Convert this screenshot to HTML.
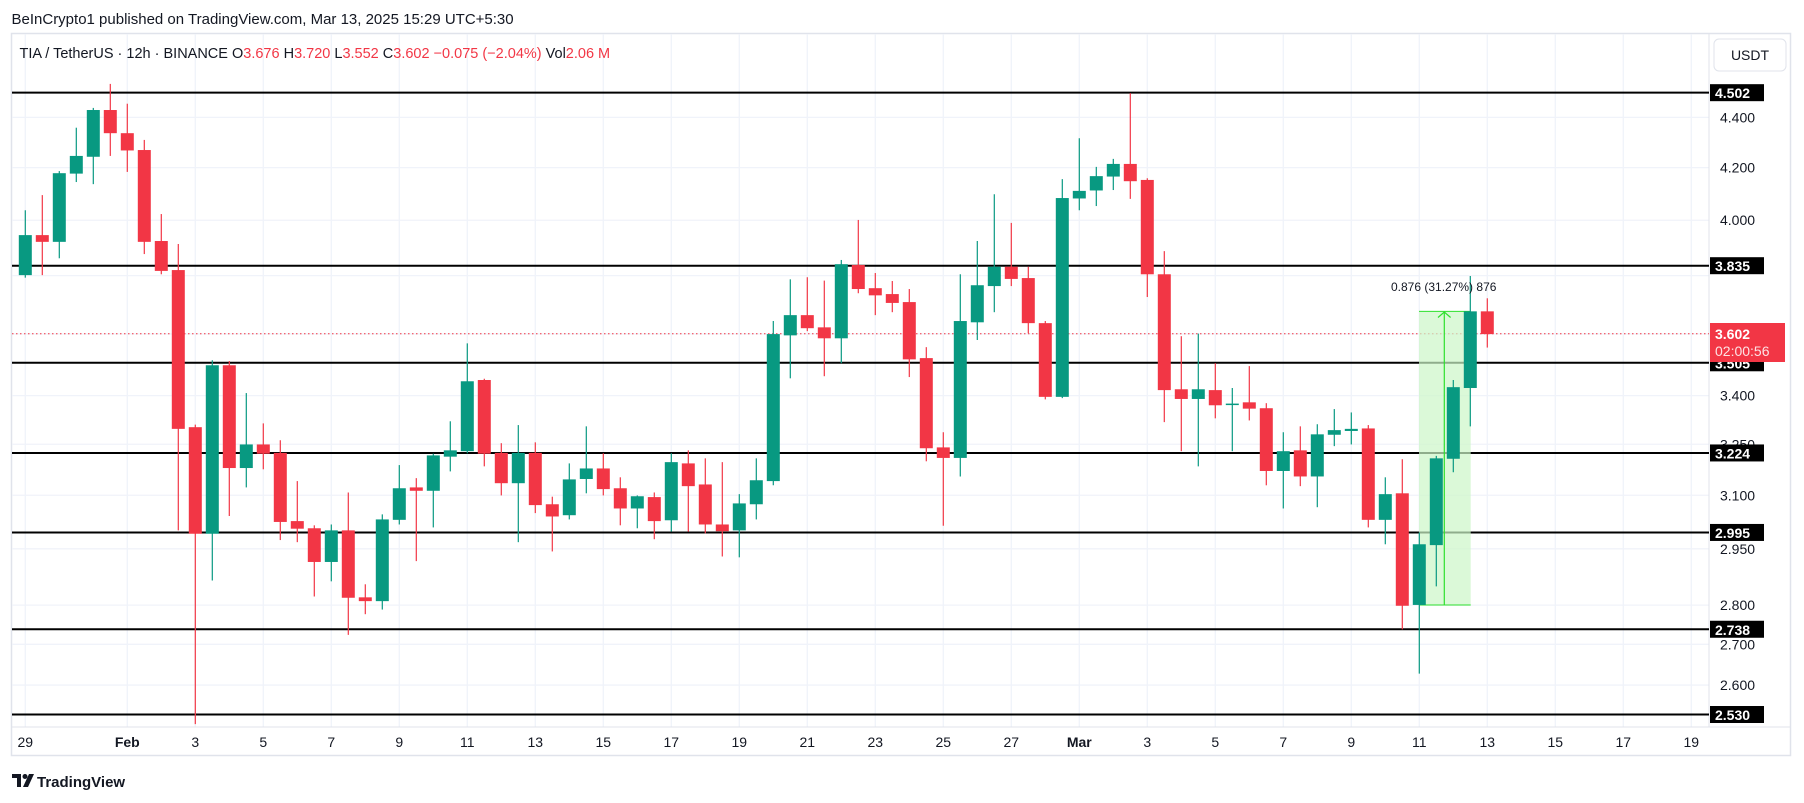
<!DOCTYPE html>
<html><head><meta charset="utf-8"><style>
html,body{margin:0;padding:0;background:#fff;width:1804px;height:803px;overflow:hidden}
svg text{font-family:"Liberation Sans",sans-serif}
</style></head><body>
<svg id="s" width="1804" height="803" viewBox="0 0 1804 803" xmlns="http://www.w3.org/2000/svg">
<rect x="0" y="0" width="1804" height="803" fill="#fff"/>
<text x="11.5" y="24" font-size="15" fill="#131722">BeInCrypto1 published on TradingView.com, Mar 13, 2025 15:29 UTC+5:30</text>
<rect x="11.5" y="33.5" width="1779" height="722" fill="none" stroke="#e0e3eb" stroke-width="1.5"/>
<g id="grid"></g>
<g id="lv"></g>
<line x1="12" y1="333.7" x2="1709" y2="333.7" stroke="#f23645" stroke-width="1" stroke-dasharray="1.5,2.5"/>
<rect x="1419" y="311.4" width="51.7" height="293.6" fill="#ccf7c8" opacity="0.7"/>
<line x1="1419" y1="311.4" x2="1470.7" y2="311.4" stroke="#2ee02e" stroke-width="1"/>
<line x1="1419" y1="605" x2="1470.7" y2="605" stroke="#2ee02e" stroke-width="1"/>
<line x1="1444.3" y1="605" x2="1444.3" y2="312" stroke="#2ee02e" stroke-width="1.2"/>
<polyline points="1438,317.5 1444.3,312 1450.6,317.5" fill="none" stroke="#2ee02e" stroke-width="1.2"/>
<g id="cd"></g>
<text x="1391" y="291" font-size="12" fill="#131722">0.876 (31.27%) 876</text>
<text x="19.5" y="58" font-size="14.5" fill="#131722">TIA / TetherUS · 12h · BINANCE  O<tspan fill="#f23645">3.676</tspan>  H<tspan fill="#f23645">3.720</tspan>  L<tspan fill="#f23645">3.552</tspan>  C<tspan fill="#f23645">3.602</tspan>  <tspan fill="#f23645">−0.075 (−2.04%)</tspan>  Vol<tspan fill="#f23645">2.06 M</tspan></text>
<rect x="1714" y="39" width="72" height="32" rx="5" fill="#fff" stroke="#e0e3eb"/>
<text x="1750" y="60" font-size="14" fill="#131722" text-anchor="middle">USDT</text>
<g id="ax"></g>
<g id="dt"></g>
<g transform="translate(12,772)">
<path d="M0 2 h9 v13 h-4 v-9 h-5z" fill="#131722"/>
<circle cx="13" cy="4.5" r="2.5" fill="#131722"/>
<path d="M17 2 h5 l-6 13 h-5z" fill="#131722"/>
</g>
<text x="37" y="787" font-size="15" font-weight="bold" fill="#131722">TradingView</text>
</svg>
<script>
const NS="http://www.w3.org/2000/svg";
function el(p,t,a,txt){const e=document.createElementNS(NS,t);for(const k in a)e.setAttribute(k,a[k]);if(txt!==undefined)e.textContent=txt;document.getElementById(p).appendChild(e);return e;}
const Y=p=>92.7+(1.5045-Math.log(p))*1079;
[4.4,4.2,4.0,3.8,3.6,3.4,3.25,3.1,2.95,2.8,2.7,2.6].forEach(p=>{const y=Y(p);el('grid','line',{x1:12,x2:1709,y1:y,y2:y,stroke:'#f0f3fa','stroke-width':1.3});});
const dates=[[0,'29'],[3,'Feb'],[5,'3'],[7,'5'],[9,'7'],[11,'9'],[13,'11'],[15,'13'],[17,'15'],[19,'17'],[21,'19'],[23,'21'],[25,'23'],[27,'25'],[29,'27'],[31,'Mar'],[33,'3'],[35,'5'],[37,'7'],[39,'9'],[41,'11'],[43,'13'],[45,'15'],[47,'17'],[49,'19']];
dates.forEach(([d,t])=>{const x=25.3+34*d;el('grid','line',{x1:x,x2:x,y1:34,y2:727,stroke:'#f0f3fa','stroke-width':1.3});el('dt','text',{x:x,y:747,'font-size':14,fill:'#131722','text-anchor':'middle','font-weight':(t==='Feb'||t==='Mar')?'bold':'normal'},t);});
el('grid','line',{x1:12,x2:1791,y1:727,y2:727,stroke:'#e0e3eb','stroke-width':1});
el('grid','line',{x1:1709,x2:1709,y1:34,y2:727,stroke:'#e0e3eb','stroke-width':1});
[4.4,4.2,4.0,3.4,3.25,3.1,2.95,2.8,2.7,2.6].forEach(p=>{el('ax','text',{x:1720,y:Y(p)+5,'font-size':14,fill:'#131722'},p.toFixed(3));});
[4.502,3.835,3.505,3.224,2.995,2.738,2.530].forEach(p=>{const y=Y(p);el('lv','line',{x1:12,x2:1709,y1:y,y2:y,stroke:'#000','stroke-width':2});
el('ax','rect',{x:1710,y:y-8.5,width:54,height:17,fill:'#000'});el('ax','text',{x:1715,y:y+5.5,'font-size':14,fill:'#fff','font-weight':'bold'},p.toFixed(3));});
el('ax','rect',{x:1710,y:323,width:75,height:39,fill:'#f23645'});
el('ax','text',{x:1715,y:339,'font-size':14,fill:'#fff','font-weight':'bold'},'3.602');
el('ax','text',{x:1715,y:356,'font-size':14,fill:'#fde2e4'},'02:00:56');
const D=[[487,392,333,493],[392,408,297,487],[408,245,240,447],[246,204,137,266],[206,95,90,271],[95,150,33,204],[150,191,80,242],[190,408,166,437],[406,477,342,485],[475,852,413,1093],
[848,1101,842,1553],[1101,701,689,1212],[701,945,691,1059],[945,889,767,991],[889,911,839,948],[909,1073,879,1116],[1071,1089,976,1121],[1088,1168,1081,1250],[1168,1093,1079,1214],[1093,1253,1003,1341],
[1252,1261,1221,1292],[1261,1067,1055,1281],[1068,993,938,1079],[991,999,969,1166],[999,915,911,1086],[918,903,834,953],[905,739,649,910],[736,911,733,941],[909,981,886,1010],[981,909,843,1121],
[909,1033,884,1052],[1031,1060,1013,1143],[1057,972,934,1067],[971,946,846,1005],[946,995,910,1010],[993,1041,967,1081],[1041,1012,1010,1088],[1014,1071,1003,1114],[1069,931,910,1096],[934,988,903,1096],
[984,1079,922,1100],[1079,1095,931,1155],[1093,1029,1007,1157],[1031,974,922,1067],[976,627,596,986],[630,582,497,732],[582,613,492,620],[611,637,500,727],[637,461,451,696],[463,520,356,530],
[518,535,482,582],[532,553,501,575],[551,687,520,729],[684,898,658,929],[896,921,860,1082],[921,596,485,965],[599,511,406,641],[513,467,295,575],[467,496,363,513],[494,601,467,625],
[601,776,596,782],[776,304,259,779],[305,287,162,333],[286,252,230,323],[253,223,211,285],[223,264,55,306],[261,485,257,539],[485,760,430,836],[758,781,632,905],[781,758,626,941],
[760,796,696,827],[794,792,755,905],[789,804,703,832],[803,952,791,986],[952,905,860,1041],[903,965,846,988],[965,865,841,1038],[866,855,805,893],[857,852,813,889],[851,1068,843,1086],
[1068,1007,967,1126],[1005,1272,924,1328],[1270,1126,1098,1433],[1128,922,916,1226],[923,753,736,955],[755,573,489,846],[573,627,542,659]];
const Z=v=>70+v*0.4212;
D.forEach((c,i)=>{const x=25.3+17*i;const[o,cl,h,l]=c.map(Z);const col=cl<o?'#089981':'#f23645';
el('cd','line',{x1:x,x2:x,y1:h,y2:l,stroke:col,'stroke-width':1.2});
const t=Math.min(o,cl),b=Math.max(o,cl);el('cd','rect',{x:x-6.5,y:t,width:13,height:Math.max(b-t,1.5),fill:col});});
</script>
</body></html>
